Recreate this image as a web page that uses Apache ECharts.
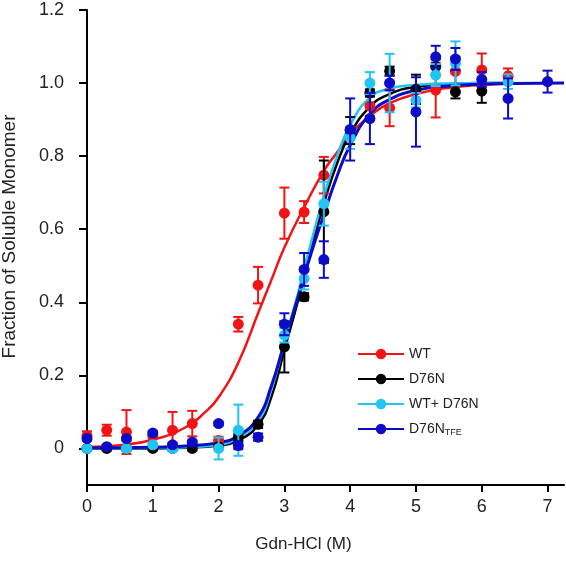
<!DOCTYPE html>
<html><head><meta charset="utf-8">
<script src="https://cdn.jsdelivr.net/npm/echarts@6/dist/echarts.min.js"></script>
<style>html,body{margin:0;padding:0;background:#fff}#c{width:566px;height:562px}</style>
</head><body><div id="c"></div>
<script>
// ---- axis ticks ----
const xTicks = [0, 1, 2, 3, 4, 5, 6, 7];
const yTicks = [0, 0.2, 0.4, 0.6, 0.8, 1.0, 1.2];

// ---- series names ----
const seriesNames = ['WT', 'D76N', 'WT+ D76N', 'D76N_TFE'];

// ---- WT (measured points) ----
const wtX   = [0, 0.3, 0.6, 1.0, 1.3, 1.6, 2.0, 2.3, 2.6, 3.0, 3.3, 3.6, 4.3, 4.6, 5.3, 5.6, 6.0, 6.4];
const wtY   = [0.035, 0.05, 0.045, 0.035, 0.05, 0.068, 0.022, 0.34, 0.447, 0.644, 0.647, 0.748, 0.937, 0.932, 0.981, 1.032, 1.036, 1.02];
const wtErr = [0.012, 0.015, 0.06, 0.01, 0.05, 0.035, 0.01, 0.02, 0.05, 0.07, 0.03, 0.05, 0.027, 0.05, 0.075, 0.04, 0.045, 0.02];

// ---- D76N ----
const d76nX   = [0, 0.3, 0.6, 1.0, 1.3, 1.6, 2.0, 2.3, 2.6, 3.0, 3.3, 3.6, 4.0, 4.3, 4.6, 5.0, 5.3, 5.6, 6.0];
const d76nY   = [0, 0, 0, 0, 0, 0, 0.005, 0.031, 0.066, 0.278, 0.415, 0.648, 0.87, 0.973, 1.033, 0.983, 1.045, 0.976, 0.978];
const d76nErr = [0.005, 0.005, 0.005, 0.005, 0.005, 0.005, 0.005, 0.01, 0.01, 0.07, 0.01, 0.14, 0.037, 0.01, 0.012, 0.04, 0.02, 0.018, 0.032];

// ---- WT+ D76N ----
const mixX   = [0, 0.6, 1.0, 1.3, 2.0, 2.3, 3.0, 3.3, 3.6, 4.0, 4.3, 4.6, 5.0, 5.3, 5.6, 6.4];
const mixY   = [0, 0, 0.01, 0, 0, 0.05, 0.31, 0.465, 0.67, 0.85, 1.0, 1.0, 0.953, 1.022, 1.054, 1.004];
const mixErr = [0.005, 0.005, 0.005, 0.005, 0.03, 0.07, 0.02, 0.03, 0.06, 0.03, 0.03, 0.08, 0.02, 0.03, 0.06, 0.02];

// ---- D76N TFE ----
const tfeX   = [0, 0.3, 0.6, 1.0, 1.3, 1.6, 2.0, 2.3, 2.6, 3.0, 3.3, 3.6, 4.0, 4.3, 4.6, 5.0, 5.3, 5.6, 6.0, 6.4, 7.0];
const tfeY   = [0.027, 0.005, 0.027, 0.042, 0.01, 0.017, 0.068, 0.008, 0.031, 0.34, 0.49, 0.517, 0.873, 0.903, 1.0, 0.921, 1.072, 1.066, 1.01, 0.958, 1.004];
const tfeErr = [0.005, 0.005, 0.005, 0.005, 0.005, 0.005, 0.005, 0.01, 0.01, 0.03, 0.045, 0.05, 0.085, 0.07, 0.02, 0.095, 0.03, 0.03, 0.02, 0.055, 0.03];

// ---- fitted curves ----
const wtFitX  = [0, 0.5, 1, 1.5, 1.8, 2, 2.3, 2.6, 2.8, 3.0, 3.3, 3.6, 3.8, 4.0, 4.3, 4.6, 5.0, 5.5, 6.0, 6.4];
const wtFitY  = [0.004, 0.009, 0.024, 0.058, 0.1, 0.14, 0.235, 0.37, 0.46, 0.55, 0.66, 0.76, 0.81, 0.86, 0.91, 0.945, 0.97, 0.987, 0.995, 0.998];
const d76nFitX = [0, 1, 1.5, 2, 2.3, 2.6, 2.8, 3.0, 3.2, 3.4, 3.6, 3.8, 4.0, 4.3, 4.6, 5.0, 5.5, 6.0, 6.4];
const d76nFitY = [0, 0, 0.002, 0.008, 0.022, 0.065, 0.14, 0.27, 0.40, 0.54, 0.67, 0.78, 0.86, 0.935, 0.97, 0.99, 0.997, 1.0, 1.0];
const mixFitX = [0, 1, 1.5, 2, 2.3, 2.6, 2.8, 3.0, 3.2, 3.4, 3.6, 3.8, 4.0, 4.3, 4.6, 5.0, 5.5, 6.0, 6.4];
const mixFitY = [0, 0.001, 0.003, 0.01, 0.03, 0.075, 0.16, 0.29, 0.42, 0.56, 0.69, 0.80, 0.885, 0.96, 0.985, 0.995, 0.999, 1.0, 1.0];
const tfeFitX = [0, 1, 1.5, 2, 2.3, 2.6, 2.8, 3.0, 3.2, 3.4, 3.6, 3.8, 4.0, 4.3, 4.6, 5.0, 5.5, 6.0, 6.5, 7.25];
const tfeFitY = [0.001, 0.003, 0.007, 0.016, 0.035, 0.085, 0.17, 0.29, 0.41, 0.53, 0.64, 0.745, 0.83, 0.915, 0.955, 0.98, 0.992, 0.997, 0.999, 1.0];

const colors = ['#f21414', '#000000', '#22c4f4', '#0c0cc8'];
const FONT = 'Liberation Sans, Arial, sans-serif';

const pts = [[wtX, wtY, wtErr], [d76nX, d76nY, d76nErr], [mixX, mixY, mixErr], [tfeX, tfeY, tfeErr]];
const fits = [[wtFitX, wtFitY], [d76nFitX, d76nFitY], [mixFitX, mixFitY], [tfeFitX, tfeFitY]];
const zip2 = (a, b) => a.map((v, i) => [v, b[i]]);
const zip3 = (a, b, c) => a.map((v, i) => [v, b[i], c[i]]);

function errRender(color) {
  return function (params, api) {
    const x = api.value(0), y = api.value(1), e = api.value(2);
    const t = api.coord([x, y + e]), b = api.coord([x, y - e]);
    const hw = 5;
    const style = { stroke: color, lineWidth: 2 };
    return { type: 'group', children: [
      { type: 'line', shape: { x1: t[0], y1: t[1], x2: b[0], y2: b[1] }, style: style },
      { type: 'line', shape: { x1: t[0] - hw, y1: t[1], x2: t[0] + hw, y2: t[1] }, style: style },
      { type: 'line', shape: { x1: b[0] - hw, y1: b[1], x2: b[0] + hw, y2: b[1] }, style: style }
    ]};
  };
}

const series = [];
fits.forEach((f, i) => {
  series.push({
    name: seriesNames[i], type: 'line', smooth: 0.5, symbol: 'circle', showSymbol: false,
    data: zip2(f[0], f[1]), color: colors[i],
    lineStyle: { width: i === 3 ? 3 : 2.5, color: colors[i] }, z: 2, silent: true
  });
});
pts.forEach((p, i) => {
  series.push({
    name: seriesNames[i] + ' err', type: 'custom', renderItem: errRender(colors[i]),
    data: zip3(p[0], p[1], p[2]), encode: { x: 0, y: 1 }, z: 3 + i * 2, silent: true
  });
  series.push({
    name: seriesNames[i] + ' pts', type: 'scatter', symbol: 'circle', symbolSize: 11,
    data: zip2(p[0], p[1]), itemStyle: { color: colors[i], opacity: 1 }, z: 4 + i * 2, silent: true
  });
});

const chart = echarts.init(document.getElementById('c'), null, { renderer: 'canvas' });
chart.setOption({
  animation: false,
  backgroundColor: '#fff',
  grid: { left: 87, right: 2, top: 10, bottom: 77, containLabel: false, outerBoundsMode: 'none' },
  xAxis: {
    type: 'value', min: 0, max: 7.25,
    axisLine: { show: true, onZero: false, lineStyle: { color: '#000', width: 2 } },
    axisTick: { show: true, length: 7, lineStyle: { color: '#000', width: 2 }, customValues: xTicks },
    axisLabel: { customValues: xTicks, fontSize: 18, color: '#222', margin: 13, fontFamily: FONT },
    splitLine: { show: false },
    name: 'Gdn-HCl (M)', nameLocation: 'middle', nameGap: 51,
    nameTextStyle: { fontSize: 17, color: '#222', fontFamily: FONT, padding: [0, 44, 0, 0] }
  },
  yAxis: {
    type: 'value', min: -0.1, max: 1.2,
    axisLine: { show: true, onZero: false, lineStyle: { color: '#000', width: 2 } },
    axisTick: { show: true, length: 8, lineStyle: { color: '#000', width: 2 }, customValues: yTicks },
    axisLabel: { customValues: yTicks, formatter: v => (v === 0 ? '0' : v.toFixed(1)), fontSize: 18, color: '#222', margin: 23, fontFamily: FONT },
    splitLine: { show: false },
    name: 'Fraction of Soluble Monomer', nameLocation: 'middle', nameGap: 68, nameRotate: 90,
    nameTextStyle: { fontSize: 19, color: '#222', fontFamily: FONT, padding: [0, 0, 0, 22] }
  },
  legend: {
    orient: 'vertical', left: 352, top: 341, itemWidth: 46, itemHeight: 13, itemGap: 9,
    data: seriesNames, selectedMode: false,
    formatter: n => (n === 'D76N_TFE' ? 'D76N{s|TFE}' : n),
    textStyle: { fontSize: 14, color: '#222', fontFamily: FONT, lineHeight: 16,
      rich: { s: { fontSize: 9, fontFamily: FONT, color: '#222', padding: [8, 0, 0, 0] } } }
  },
  series: series
});
</script></body></html>
